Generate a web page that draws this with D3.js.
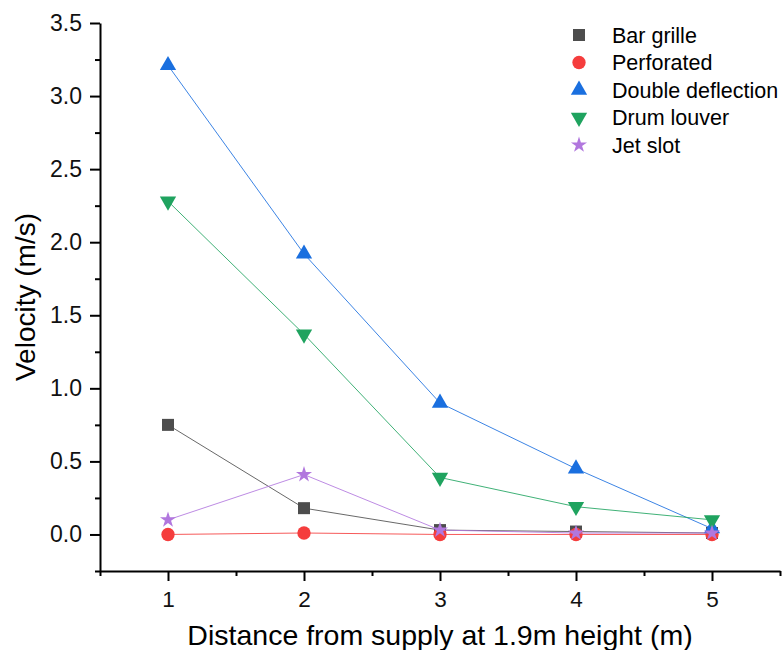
<!DOCTYPE html>
<html>
<head>
<meta charset="utf-8">
<script src="https://cdn.jsdelivr.net/npm/d3@7"></script>
<style>
  html, body { margin: 0; padding: 0; background: #fff; }
  svg { display: block; font-family: Arial, "Liberation Sans", sans-serif; }
</style>
</head>
<body>
<svg id="chart" width="784" height="650"></svg>
<script>
// Distance from the supply (m)
const distances = [1, 2, 3, 4, 5];

// Measured velocity (m/s) for each diffuser type
const barGrille        = [0.75, 0.18, 0.03, 0.02, 0.01];
const perforated       = [0.00, 0.01, 0.00, 0.00, 0.00];
const doubleDeflection = [3.21, 1.92, 0.90, 0.45, 0.04];
const drumLouver       = [2.28, 1.37, 0.39, 0.19, 0.10];
const jetSlot          = [0.10, 0.41, 0.03, 0.01, 0.01];

const seriesNames = ["Bar grille", "Perforated", "Double deflection", "Drum louver", "Jet slot"];

const xTickValues = [1, 2, 3, 4, 5];
const yTickValues = [0, 0.5, 1.0, 1.5, 2.0, 2.5, 3.0, 3.5];

const xTitle = "Distance from supply at 1.9m height (m)";
const yTitle = "Velocity (m/s)";

const seriesValues = [barGrille, perforated, doubleDeflection, drumLouver, jetSlot];
const colors = ["#4d4d4d", "#f53d3d", "#1a6fdf", "#1fa35f", "#b177de"];
const symbols = [d3.symbolSquare, d3.symbolCircle, d3.symbolTriangle, d3.symbolTriangle, d3.symbolStar];
const symbolSizes = [144, 140, 115, 115, 80];
const rotations = [0, 0, 0, 180, 0];

const svg = d3.select("#chart");

const x = d3.scaleLinear().domain([0.5, 5.5]).range([100, 780]);
const y = d3.scaleLinear().domain([-0.25, 3.5]).range([571, 23]);

// Axes: major ticks with labels, then unlabeled minor ticks
const xAxis = svg.append("g").attr("transform", `translate(0,${y(-0.25)})`)
  .call(d3.axisBottom(x).tickValues(xTickValues).tickFormat(d3.format("d"))
        .tickSize(10).tickSizeOuter(0).tickPadding(10));
svg.append("g").attr("transform", `translate(0,${y(-0.25)})`)
  .call(d3.axisBottom(x).tickValues([0.5, 1.5, 2.5, 3.5, 4.5, 5.5]).tickFormat("")
        .tickSize(5).tickSizeOuter(0))
  .select(".domain").remove();

const yAxis = svg.append("g").attr("transform", `translate(${x(0.5)},0)`)
  .call(d3.axisLeft(y).tickValues(yTickValues).tickFormat(d3.format(".1f"))
        .tickSize(10).tickSizeOuter(0).tickPadding(8));
svg.append("g").attr("transform", `translate(${x(0.5)},0)`)
  .call(d3.axisLeft(y).tickValues([-0.25, 0.25, 0.75, 1.25, 1.75, 2.25, 2.75, 3.25]).tickFormat("")
        .tickSize(5).tickSizeOuter(0))
  .select(".domain").remove();

svg.selectAll(".domain").attr("stroke", "#000").attr("stroke-width", 2);
svg.selectAll(".tick line").attr("stroke", "#000").attr("stroke-width", 2);
svg.selectAll("g").attr("font-family", "Arial, 'Liberation Sans', sans-serif");
xAxis.attr("font-size", 22.5);
yAxis.attr("font-size", 23);
xAxis.selectAll(".tick text").attr("fill", "#111");
yAxis.selectAll(".tick text").attr("fill", "#111");

// Axis titles
svg.append("text")
  .attr("x", x(3)).attr("y", 645)
  .attr("text-anchor", "middle")
  .attr("font-size", 28.5).attr("fill", "#000")
  .text(xTitle);

svg.append("text")
  .attr("transform", `translate(35,${y(1.625)}) rotate(-90)`)
  .attr("text-anchor", "middle")
  .attr("font-size", 28).attr("fill", "#000")
  .text(yTitle);

// Lines, then markers, drawn series by series
const line = d3.line().x((d, i) => x(distances[i])).y(d => y(d));

seriesValues.forEach((vals, s) => {
  const g = svg.append("g");
  g.append("path")
    .datum(vals)
    .attr("d", line)
    .attr("fill", "none")
    .attr("stroke", colors[s])
    .attr("stroke-width", 1)
    .attr("stroke-opacity", 0.85);
  g.selectAll("path.mark")
    .data(vals)
    .join("path")
    .attr("class", "mark")
    .attr("d", d3.symbol().type(symbols[s]).size(symbolSizes[s]))
    .attr("transform", (d, i) => `translate(${x(distances[i])},${y(d)}) rotate(${rotations[s]})`)
    .attr("fill", colors[s]);
});

// Legend
const legend = svg.append("g");
seriesNames.forEach((name, s) => {
  const cy = 35 + s * 27.5;
  legend.append("path")
    .attr("d", d3.symbol().type(symbols[s]).size(symbolSizes[s]))
    .attr("transform", `translate(579,${cy}) rotate(${rotations[s]})`)
    .attr("fill", colors[s]);
  legend.append("text")
    .attr("x", 612).attr("y", cy + 7.5)
    .attr("font-size", 21.5).attr("fill", "#000")
    .text(name);
});
</script>
</body>
</html>
